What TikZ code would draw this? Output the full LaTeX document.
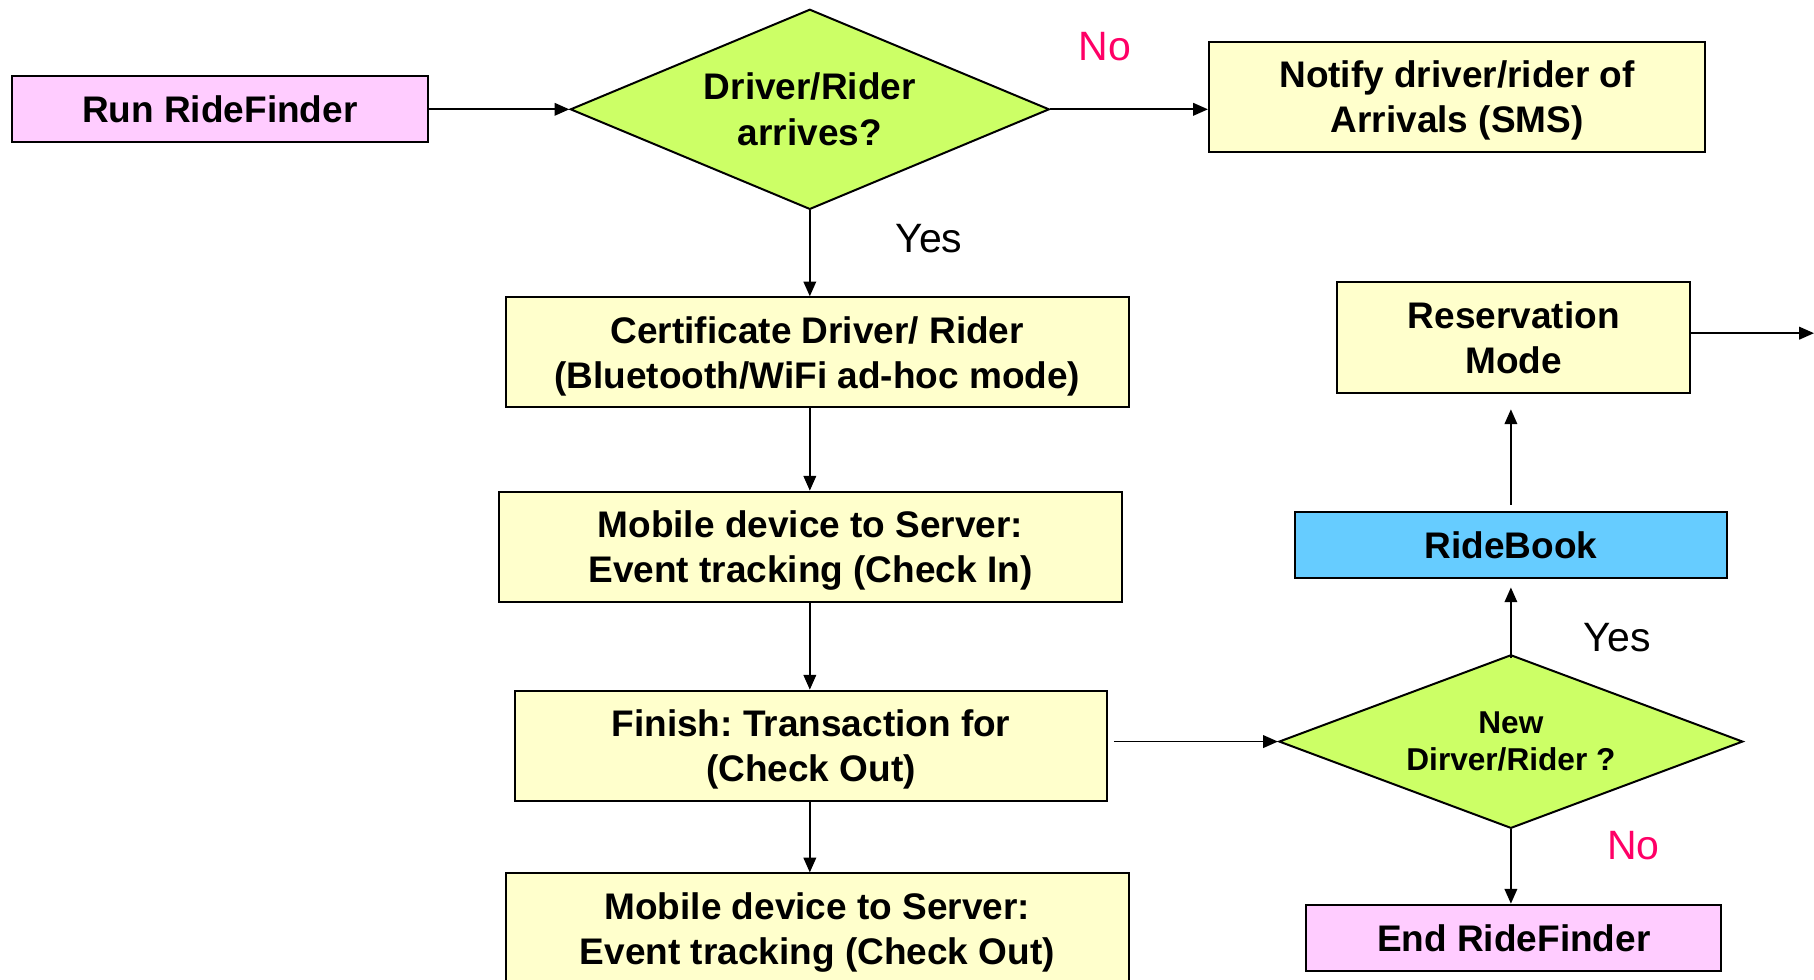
\documentclass[tikz,border=0pt]{standalone}
\usepackage{fontspec}
\setmainfont{Liberation Sans}
\usetikzlibrary{shapes.geometric,arrows.meta}
\frenchspacing
\newdimen\uu \uu=0.5785pt
\definecolor{pinkbox}{HTML}{FFCCFF}
\definecolor{yellowbox}{HTML}{FFFFCC}
\definecolor{greenbox}{HTML}{CCFF66}
\definecolor{bluebox}{HTML}{66CCFF}
\definecolor{nored}{HTML}{FF0066}
\newcommand\mainfnt{\fontsize{18.5}{22.6}\selectfont\bfseries}
\newcommand\smallfnt{\fontsize{15.8}{18.5}\selectfont\bfseries}
\newcommand\lblfnt{\fontsize{20.5}{24}\selectfont}
\begin{document}
\begin{tikzpicture}[x=\uu,y=-\uu,
  box/.style={draw=black, line width=1pt, fill=yellowbox, inner sep=0pt, align=center, font=\mainfnt, text depth=0pt},
  tallbox/.style={box, minimum height=95\uu},
  flatbox/.style={box, minimum height=57\uu},
  dec/.style={diamond, draw=black, line width=1pt, fill=greenbox, inner sep=0pt, align=center},
  arr/.style={line width=0.9pt, -{Triangle[length=7.4pt,width=6.3pt]}},
  yeslbl/.style={font=\lblfnt, text=black, inner sep=0pt},
  nolbl/.style={font=\lblfnt, text=nored, inner sep=0pt}]
\useasboundingbox (0,0) rectangle (1568,847);
\clip (0,0) rectangle (1568,847);

\node[flatbox, fill=pinkbox, minimum width=360\uu] (run) at (190,94.5) {Run RideFinder};
\node[dec, font=\mainfnt, aspect=2.39, minimum width=414\uu, minimum height=173\uu] (d1) at (700,94.5) {Driver/Rider\\arrives?};
\node[tallbox, minimum width=429\uu] (notify) at (1259.5,83.5) {Notify driver/rider of\\Arrivals (SMS)};
\node[tallbox, minimum width=539\uu] (cert) at (706.5,304.5) {Certificate Driver/ Rider\\(Bluetooth/WiFi ad-hoc mode)};
\node[tallbox, minimum width=539\uu] (mob1) at (700.5,472.5) {Mobile device to Server:\\Event tracking (Check In)};
\node[tallbox, minimum width=512\uu] (finish) at (701,644.5) {Finish: Transaction for\\(Check Out)};
\node[tallbox, minimum width=539\uu] (mob2) at (706.5,802.5) {Mobile device to Server:\\Event tracking (Check Out)};
\node[dec, font=\smallfnt, aspect=2.67, minimum width=401\uu, minimum height=150\uu, text depth=0pt] (d2) at (1306,641) {New\\Dirver/Rider ?};
\node[flatbox, fill=bluebox, minimum width=374\uu] (ridebook) at (1306,471.5) {RideBook};
\node[tallbox, minimum width=305\uu, minimum height=96\uu] (resv) at (1308.5,292) {Reservation\\Mode};
\node[flatbox, fill=pinkbox, minimum width=359\uu] (end) at (1308.5,810.5) {End RideFinder};
\coordinate (out) at (1568,288);

\node[nolbl] (no1) at (955,40) {No};
\node[yeslbl] (yes1) at (803,206) {Yes};
\node[yeslbl] (yes2) at (1398,551) {Yes};
\node[nolbl] (no2) at (1412,731) {No};

\draw[arr] (run.east) -- (d1.west);
\draw[arr] (d1.east) -- (d1.east -| notify.west);
\draw[arr] (d1.south) -- (d1.south |- cert.north);
\draw[arr] (cert.south -| d1.south) -- (mob1.north -| d1.south);
\draw[arr] (mob1.south -| d1.south) -- (finish.north -| d1.south);
\draw[arr] (finish.south -| d1.south) -- (mob2.north -| d1.south);
\draw[arr, shorten <=2.9pt] (d2.west -| finish.east) -- (d2.west);
\draw[arr, shorten <=-2.3pt, shorten >=4pt] (d2.north) -- (d2.north |- ridebook.south);
\draw[arr, shorten <=3.5pt, shorten >=7.5pt] (ridebook.north) -- (ridebook.north |- resv.south);
\draw[arr] (resv.east |- out) -- (out);
\draw[arr] (d2.south) -- (d2.south |- end.north);
\end{tikzpicture}
\end{document}
